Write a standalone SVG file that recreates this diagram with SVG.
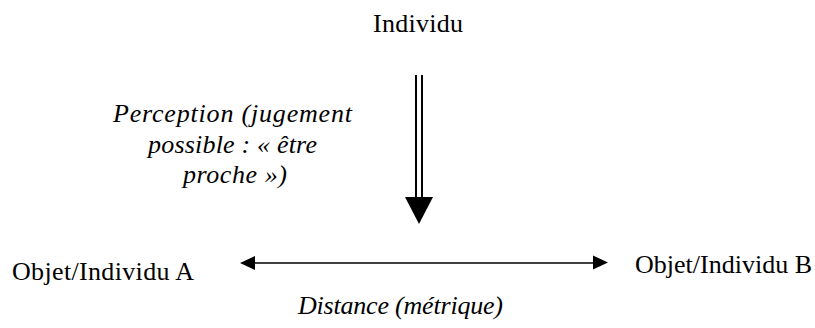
<svg xmlns="http://www.w3.org/2000/svg" width="815" height="328" viewBox="0 0 815 328">
<style>
.t{font-family:"Liberation Serif","Times New Roman",serif;font-size:26px;fill:#000}
.i{font-style:italic}
.ln{stroke:#000;stroke-width:2;fill:none}
</style>
<rect width="815" height="328" fill="#fff"/>
<g id="individu"><text class="t" x="373" y="32" textLength="90">Individu</text></g>
<g id="objetA"><text class="t" x="12" y="280" textLength="182">Objet/Individu A</text></g>
<g id="objetB"><text class="t" x="635" y="273" textLength="177">Objet/Individu B</text></g>
<g id="perception"><text class="t i"><tspan x="113" y="122" textLength="239">Perception  (jugement</tspan><tspan x="148" y="153" textLength="169">possible : « être</tspan><tspan x="183" y="183" textLength="104">proche »)</tspan></text></g>
<g id="distance"><text class="t i" x="298" y="314" textLength="205">Distance (métrique)</text></g>
<g id="connectors">
<line class="ln" x1="416" y1="75" x2="416" y2="198"/>
<line class="ln" x1="422" y1="75" x2="422" y2="198"/>
<path d="M405,197 L433,197 L419,224 Z" fill="#000"/>
<line x1="254" y1="263" x2="594" y2="263" stroke="#000" stroke-width="1.5"/>
<path d="M240,263 L255,256 L255,270 Z" fill="#000"/>
<path d="M608,262.5 L593,255.5 L593,269.5 Z" fill="#000"/>
</g>
</svg>
